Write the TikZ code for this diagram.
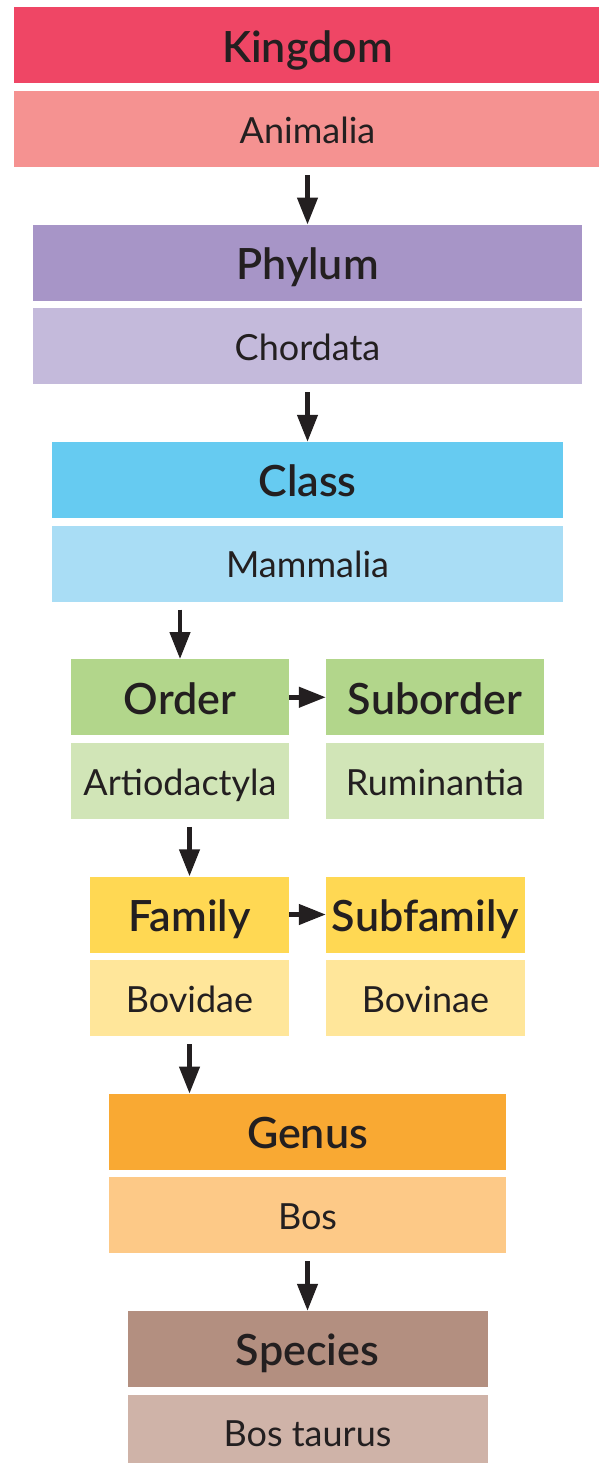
\documentclass[tikz,border=0pt]{standalone}
\usepackage{fontspec}
\setmainfont{Lato}
\newfontfamily\rankfont{Lato Semibold}
\usetikzlibrary{positioning,arrows.meta}
\definecolor{ink}{HTML}{231F20}
\definecolor{kingH}{HTML}{EF4665}
\definecolor{kingS}{HTML}{F59291}
\definecolor{phylH}{HTML}{A795C7}
\definecolor{phylS}{HTML}{C4BADB}
\definecolor{clasH}{HTML}{66CBF1}
\definecolor{clasS}{HTML}{A9DDF5}
\definecolor{ordH}{HTML}{B2D68B}
\definecolor{ordS}{HTML}{D1E5B7}
\definecolor{famH}{HTML}{FFD853}
\definecolor{famS}{HTML}{FFE69A}
\definecolor{genH}{HTML}{F9A933}
\definecolor{genS}{HTML}{FDC987}
\definecolor{spcH}{HTML}{B38F80}
\definecolor{spcS}{HTML}{CFB3A8}
\tikzset{
  rank/.style={fill=#1, text=ink, inner sep=0pt, minimum height=76pt,
               text height=37pt, text depth=3.2pt,
               font=\rankfont\fontsize{43}{43}\selectfont},
  taxon/.style={fill=#1, text=ink, inner sep=0pt, minimum height=76pt,
                text height=31pt, text depth=2.2pt,
                font=\fontsize{36}{36}\selectfont},
  flow/.style={-{Triangle[length=27pt,width=20pt]}, line width=4.5pt, draw=ink},
}
\begin{document}
\begin{tikzpicture}[x=1pt,y=-1pt]
\clip (0,0) rectangle (599,1463);
% kingdom
\node[rank=kingH, minimum width=587pt] (king) at (307.5,45.5) {Kingdom};
\node[taxon=kingS, minimum width=587pt] (anim) at (307.5,129) {Animalia};
% phylum
\node[rank=phylH, minimum width=549pt] (phyl) at (307.5,262.75) {Phylum};
\node[taxon=phylS, minimum width=549pt] (chor) at (307.5,346.25) {Chordata};
% class
\node[rank=clasH, minimum width=511pt] (clas) at (307.5,480) {Class};
\node[taxon=clasS, minimum width=511pt] (mamm) at (307.5,563.5) {Mammalia};
% order and suborder
\node[rank=ordH, minimum width=218pt] (ord) at (180,697.25) {Order};
\node[taxon=ordS, minimum width=218pt] (artio) at (180,780.75) {Artiodactyla};
\node[rank=ordH, minimum width=218pt] (subord) at (435,697.25) {Suborder};
\node[taxon=ordS, minimum width=218pt] (rumi) at (435,780.75) {Ruminantia};
% family and subfamily
\node[rank=famH, minimum width=199pt] (fam) at (189.5,914.5) {Family};
\node[taxon=famS, minimum width=199pt] (bovid) at (189.5,998) {Bovidae};
\node[rank=famH, minimum width=199pt] (subfam) at (425.5,914.5) {Subfamily};
\node[taxon=famS, minimum width=199pt] (bovin) at (425.5,998) {Bovinae};
% genus
\node[rank=genH, minimum width=397pt] (gen) at (307.5,1131.75) {Genus};
\node[taxon=genS, minimum width=397pt] (bos) at (307.5,1215.25) {Bos};
% species
\node[rank=spcH, minimum width=360pt] (spc) at (307.5,1349) {Species};
\node[taxon=spcS, minimum width=360pt] (taur) at (307.5,1432.5) {Bos taurus};
% arrows
\draw[flow, shorten <=8pt] (anim.south) -- (phyl.north);
\draw[flow, shorten <=8pt] (chor.south) -- (clas.north);
\draw[flow, shorten <=8pt] (mamm.south -| ord.north) -- (ord.north);
\draw[flow] (ord.east) -- (subord.west);
\draw[flow, shorten <=8pt] (artio.south -| fam.north) -- (fam.north);
\draw[flow] (fam.east) -- (subfam.west);
\draw[flow, shorten <=8pt] (bovid.south) -- (bovid.south |- gen.north);
\draw[flow, shorten <=8pt] (bos.south) -- (spc.north);
\end{tikzpicture}
\end{document}
